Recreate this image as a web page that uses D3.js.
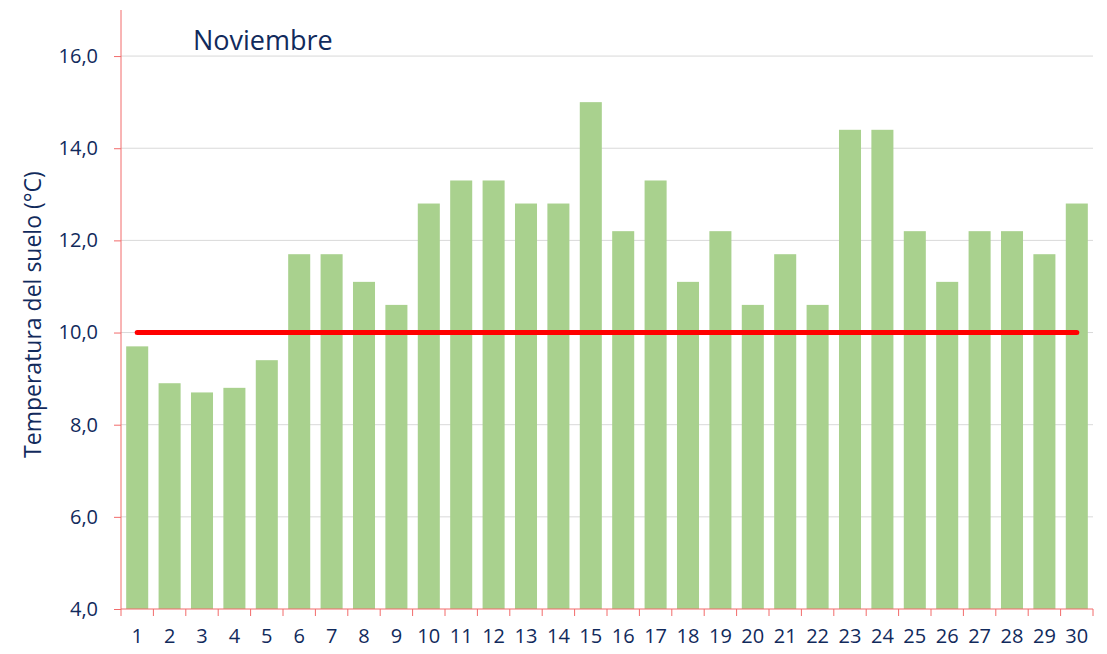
<!DOCTYPE html>
<html lang="es">
<head>
    <meta charset="UTF-8">
    <title>Noviembre</title>
    <script src="https://d3js.org/d3.v7.min.js"></script>
    <style>
        body { margin: 0; background: #fff; font-family: "Open Sans", "Liberation Sans", sans-serif; }
        .tick text { fill: #112a5c; font-size: 20px; font-family: "Open Sans", sans-serif; }
    </style>
</head>
<body>
    <svg id="chart" width="1107" height="654"></svg>
    <script>
        // Datos
        const dias = d3.range(1, 31).map(String);
        const temperatura = [9.7, 8.9, 8.7, 8.8, 9.4, 11.7, 11.7, 11.1, 10.6, 12.8,
                             13.3, 13.3, 12.8, 12.8, 15.0, 12.2, 13.3, 11.1, 12.2, 10.6,
                             11.7, 10.6, 14.4, 14.4, 12.2, 11.1, 12.2, 12.2, 11.7, 12.8];
        const umbral = 10;
        const yTicks = [4, 6, 8, 10, 12, 14, 16];

        const margin = { top: 10, right: 14, bottom: 45, left: 121 };
        const width = 1107, height = 654;

        const svg = d3.select("#chart");

        const x = d3.scaleBand()
            .domain(dias)
            .range([margin.left, width - margin.right])
            .paddingInner(0.32)
            .paddingOuter(0.16);

        const y = d3.scaleLinear()
            .domain([4, 17])
            .range([height - margin.bottom, margin.top]);

        // Rejilla
        svg.append("g")
            .selectAll("line")
            .data(yTicks.slice(1))
            .join("line")
            .attr("x1", margin.left)
            .attr("x2", width - margin.right)
            .attr("y1", d => y(d))
            .attr("y2", d => y(d))
            .attr("stroke", "#d9d9d9")
            .attr("stroke-width", 1);

        // Barras
        svg.append("g")
            .selectAll("rect")
            .data(temperatura)
            .join("rect")
            .attr("x", (d, i) => x(dias[i]))
            .attr("y", d => y(d))
            .attr("width", x.bandwidth())
            .attr("height", d => y(4) - y(d))
            .attr("fill", "#a9d18e");

        // Línea de 10 °C
        svg.append("line")
            .attr("x1", x(dias[0]) + x.bandwidth() / 2)
            .attr("x2", x(dias[dias.length - 1]) + x.bandwidth() / 2)
            .attr("y1", y(umbral))
            .attr("y2", y(umbral))
            .attr("stroke", "#ff0000")
            .attr("stroke-width", 5)
            .attr("stroke-linecap", "round");

        // Eje Y
        const yAxis = svg.append("g")
            .attr("transform", `translate(${margin.left},0)`)
            .call(d3.axisLeft(y).tickValues(yTicks).tickSize(7).tickPadding(16)
                .tickFormat(d => d3.format(".1f")(d).replace(".", ",")));
        yAxis.select(".domain").attr("stroke", "#f26b6b").attr("d", `M0,${y(4)}V${margin.top}`);
        yAxis.selectAll(".tick line").attr("stroke", "#f26b6b");

        // Eje X
        const xAxis = svg.append("g")
            .attr("transform", `translate(0,${y(4)})`)
            .call(d3.axisBottom(x).tickSize(0).tickPadding(20));
        xAxis.select(".domain").attr("stroke", "#f26b6b").attr("d", `M${margin.left},0H${width - margin.right}`);

        const step = x.step();
        svg.append("g")
            .selectAll("line")
            .data(d3.range(dias.length + 1))
            .join("line")
            .attr("x1", i => margin.left + i * step)
            .attr("x2", i => margin.left + i * step)
            .attr("y1", y(4))
            .attr("y2", y(4) + 7)
            .attr("stroke", "#f26b6b");

        // Título del eje
        svg.append("text")
            .attr("transform", `translate(41,${(y(4) + y(17)) / 2 + 5}) rotate(-90)`)
            .attr("text-anchor", "middle")
            .attr("fill", "#112a5c")
            .attr("font-size", 23)
            .text("Temperatura del suelo (°C)");

        // Título
        svg.append("text")
            .attr("x", 193)
            .attr("y", 50)
            .attr("fill", "#112a5c")
            .attr("font-size", 27)
            .text("Noviembre");
    </script>
</body>
</html>
